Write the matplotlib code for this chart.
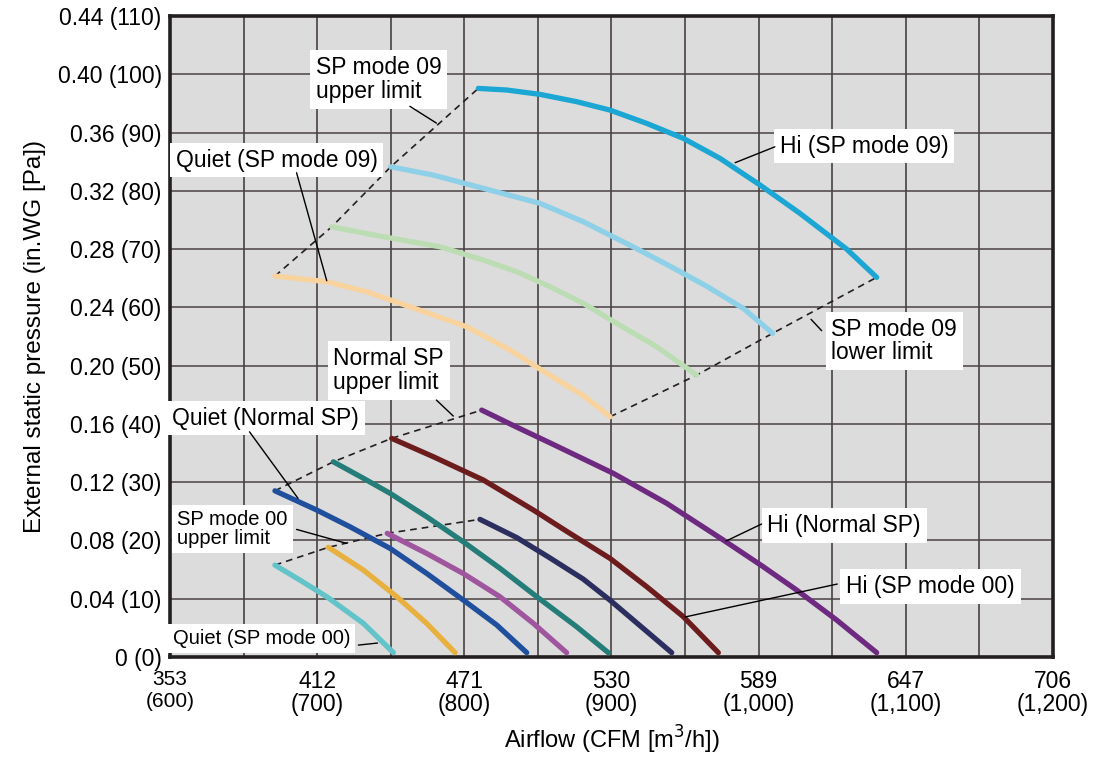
"""
Fan performance curves: external static pressure vs airflow,
for Normal SP, SP mode 00 and SP mode 09 settings.
"""

import matplotlib
matplotlib.use("Agg")
import matplotlib.pyplot as plt

plt.rcParams["font.family"] = ["Liberation Sans", "DejaVu Sans"]

# --- Curve data: airflow in m3/h, pressure in in.WG ---
# SP mode 09 group
hi09_x = [809.5, 828.8, 851.4, 876.3, 899.0, 923.9, 948.8, 973.7, 1000.9,
          1028.1, 1059.8, 1080.2]
hi09_y = [0.3903, 0.3892, 0.3862, 0.3812, 0.3754, 0.3663, 0.3560, 0.3423,
          0.3240, 0.3045, 0.2800, 0.2606]
mh09_x = [750.0, 778.9, 812.9, 851.4, 880.8, 914.8, 937.5, 964.7, 989.6, 1009.5]
mh09_y = [0.3365, 0.3308, 0.3217, 0.3114, 0.2988, 0.2815, 0.2695, 0.2545,
          0.2393, 0.2222]
ml09_x = [709.9, 744.9, 783.5, 812.9, 835.6, 858.2, 880.8, 903.5, 930.7, 957.9]
ml09_y = [0.2953, 0.2885, 0.2816, 0.2725, 0.2645, 0.2542, 0.2428, 0.2290,
          0.2130, 0.1935]
quiet09_x = [671.3, 706.5, 733.7, 763.1, 801.6, 831.0, 856.0, 880.8, 899.0]
quiet09_y = [0.2615, 0.2576, 0.2507, 0.2404, 0.2267, 0.2107, 0.1947, 0.1795,
             0.1649]

# Normal SP group
hin_x = [811.8, 835.6, 858.2, 901.2, 937.5, 976.0, 1003.1, 1025.8, 1053.0,
         1080.2]
hin_y = [0.1695, 0.1578, 0.1470, 0.1261, 0.1055, 0.0803, 0.0620, 0.0460,
         0.0254, 0.003]
mhn_x = [750.6, 778.9, 812.9, 846.9, 870.0, 899.0, 923.9, 948.8, 972.6]
mhn_y = [0.1501, 0.1375, 0.1215, 0.1009, 0.0860, 0.0677, 0.0483, 0.0277, 0.003]
mln_x = [711.0, 731.4, 749.5, 774.4, 799.3, 824.2, 849.2, 876.3, 897.8]
mln_y = [0.1340, 0.1227, 0.1124, 0.0963, 0.0791, 0.0609, 0.0414, 0.0208, 0.003]
quietn_x = [671.3, 699.7, 722.3, 749.5, 774.4, 799.3, 822.0, 842.4]
quietn_y = [0.1141, 0.1009, 0.0894, 0.0746, 0.0574, 0.0391, 0.0220, 0.003]

# SP mode 00 group
hi00_x = [810.6, 835.6, 858.2, 880.8, 899.0, 919.4, 940.9]
hi00_y = [0.0945, 0.0820, 0.0680, 0.0535, 0.0390, 0.0215, 0.003]
mh00_x = [747.6, 774.4, 799.3, 824.2, 846.9, 869.5]
mh00_y = [0.0849, 0.0711, 0.0573, 0.0414, 0.0231, 0.003]
ml00_x = [707.6, 731.4, 754.1, 774.4, 793.7]
ml00_y = [0.0753, 0.0597, 0.0414, 0.0231, 0.003]
quiet00_x = [671.3, 688.3, 706.5, 731.4, 751.8]
quiet00_y = [0.0631, 0.0528, 0.0414, 0.0231, 0.003]

x_ticks = [600, 700, 800, 900, 1000, 1100, 1200]
x_labels = ["353\n(600)", "412\n(700)", "471\n(800)", "530\n(900)",
            "589\n(1,000)", "647\n(1,100)", "706\n(1,200)"]
y_ticks = [0, 0.04, 0.08, 0.12, 0.16, 0.20, 0.24, 0.28, 0.32, 0.36, 0.40, 0.44]
y_labels = ["0 (0)", "0.04 (10)", "0.08 (20)", "0.12 (30)", "0.16 (40)",
            "0.20 (50)", "0.24 (60)", "0.28 (70)", "0.32 (80)", "0.36 (90)",
            "0.40 (100)", "0.44 (110)"]

curves = [
    (hi09_x, hi09_y, "#1ba6d3"),
    (mh09_x, mh09_y, "#8ed0e7"),
    (ml09_x, ml09_y, "#bcdcb3"),
    (quiet09_x, quiet09_y, "#f8d39d"),
    (hin_x, hin_y, "#6e2a80"),
    (mhn_x, mhn_y, "#6d1c1e"),
    (mln_x, mln_y, "#247d78"),
    (quietn_x, quietn_y, "#1f4f9d"),
    (hi00_x, hi00_y, "#2b2e5e"),
    (mh00_x, mh00_y, "#a0569f"),
    (ml00_x, ml00_y, "#e8b03f"),
    (quiet00_x, quiet00_y, "#62c3c8"),
]

fig = plt.figure(figsize=(10.94, 7.58), dpi=100)
ax = fig.add_axes([0.1554, 0.1332, 0.8071, 0.8457])
ax.set_facecolor("#dcdcdc")

ax.set_xlim(600, 1200)
ax.set_ylim(0, 0.44)

# grid: every 50 m3/h, every 0.04 in.WG
ax.set_xticks(x_ticks)
ax.set_xticks(range(650, 1200, 100), minor=True)
ax.set_yticks(y_ticks)
ax.grid(True, which="both", axis="x", color="#3b3333", lw=1.1)
ax.grid(True, which="major", axis="y", color="#4a4242", lw=1.1)
ax.set_axisbelow(True)

ax.set_xticklabels(x_labels, fontsize=16.5, linespacing=1.0)
ax.get_xticklabels()[0].set_fontsize(15)
ax.get_xticklabels()[0].set_linespacing(1.25)
ax.set_yticklabels(y_labels, fontsize=16.5)
ax.tick_params(which="both", length=0)
ax.tick_params(axis="x", pad=9)
ax.tick_params(axis="y", pad=6)

for s in ax.spines.values():
    s.set_linewidth(2.6)
    s.set_color("#231f20")

# --- dashed limit lines through curve ends ---
groups_start = [
    [quiet09_x, ml09_x, mh09_x, hi09_x], [quiet09_y, ml09_y, mh09_y, hi09_y],
    [quietn_x, mln_x, mhn_x, hin_x], [quietn_y, mln_y, mhn_y, hin_y],
    [quiet00_x, ml00_x, mh00_x, hi00_x], [quiet00_y, ml00_y, mh00_y, hi00_y],
]
for i in range(0, len(groups_start), 2):
    ax.plot([c[0] for c in groups_start[i]], [c[0] for c in groups_start[i + 1]],
            color="#231f20", lw=1.2, ls=(0, (4, 3)), zorder=3)
# SP mode 09 lower limit through the curve ends
ax.plot([c[-1] for c in groups_start[0]], [c[-1] for c in groups_start[1]],
        color="#231f20", lw=1.2, ls=(0, (4, 3)), zorder=3)

for xs, ys, c in curves:
    ax.plot(xs, ys, color=c, lw=3.8, solid_capstyle="round",
            solid_joinstyle="round", zorder=4)

# --- callout labels ---
box = dict(boxstyle="square,pad=0.25", fc="white", ec="none")
leader = dict(arrowstyle="-", color="black", lw=1.0, shrinkA=0, shrinkB=0)


def leader_line(p0, p1):
    ax.annotate("", xy=p1, xytext=p0, arrowprops=leader, zorder=6)


ax.text(699, 0.3963, "SP mode 09\nupper limit", fontsize=16.5, va="center",
        bbox=box, zorder=6, linespacing=1.05)
leader_line((763, 0.378), (781, 0.3665))

ax.text(604, 0.3411, "Quiet (SP mode 09)", fontsize=16.5, va="center",
        bbox=box, zorder=6)
leader_line((686, 0.3324), (706.5, 0.2583))

ax.text(711, 0.1966, "Normal SP\nupper limit", fontsize=16.5, va="center",
        bbox=box, zorder=6, linespacing=1.05)
leader_line((781, 0.1764), (792.5, 0.1654))

ax.text(601.5, 0.164, "Quiet (Normal SP)", fontsize=16.5, va="center",
        bbox=box, zorder=6)
leader_line((654, 0.1546), (687, 0.1089))

ax.text(605, 0.0879, "SP mode 00\nupper limit", fontsize=14.5, va="center",
        bbox=box, zorder=6, linespacing=1.05)
leader_line((686, 0.0876), (720, 0.078))

ax.text(602, 0.013, "Quiet (SP mode 00)", fontsize=14.5, va="center",
        bbox=box, zorder=6)
leader_line((728, 0.0082), (741, 0.0096))

ax.text(1014.5, 0.3507, "Hi (SP mode 09)", fontsize=16.5, va="center",
        bbox=box, zorder=6)
leader_line((1011, 0.3502), (984, 0.3393))

ax.text(1049.5, 0.2169, "SP mode 09\nlower limit", fontsize=16.5, va="center",
        bbox=box, zorder=6, linespacing=1.05)
leader_line((1042.8, 0.224), (1035.6, 0.2318))

ax.text(1006, 0.0903, "Hi (Normal SP)", fontsize=16.5, va="center",
        bbox=box, zorder=6)
leader_line((1002, 0.0913), (977.8, 0.0796))

ax.text(1059.5, 0.0484, "Hi (SP mode 00)", fontsize=16.5, va="center",
        bbox=box, zorder=6)
leader_line((1053.4, 0.0501), (950, 0.0275))

ax.set_xlabel("Airflow (CFM [m$^3$/h])", fontsize=17, labelpad=6)
ax.set_ylabel("External static pressure (in.WG [Pa])", fontsize=17.5,
              labelpad=8)

fig.savefig("out.png", dpi=100)
